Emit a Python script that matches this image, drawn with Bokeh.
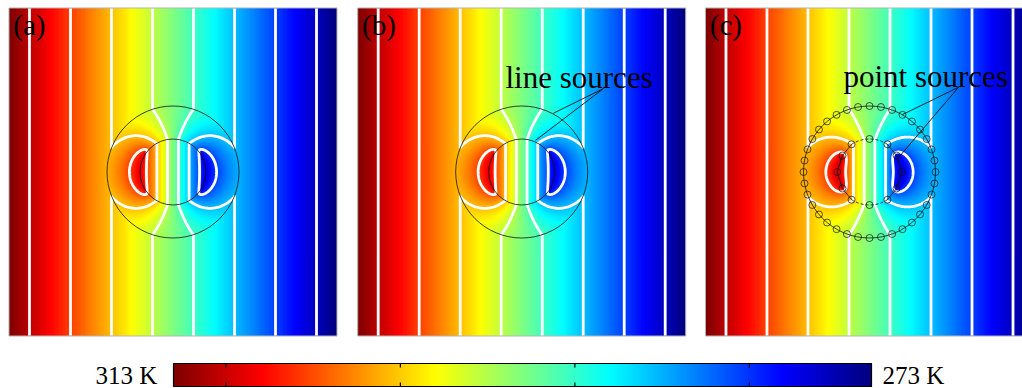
import numpy as np
from bokeh.plotting import figure
from bokeh.models import LinearColorMapper, Range1d
from bokeh.core.properties import value
from bokeh.embed import file_html
from bokeh.resources import INLINE

# ---------------- data ----------------
T_LEFT = 313.0          # K, hot end (left)
T_RIGHT = 273.0         # K, cold end (right)
T_MID = 293.0
levels = [275.5, 280.5, 285.5, 290.5, 295.5, 300.5, 305.5, 310.5]
cbar_ticks = [310, 300, 290, 280]
cbar_labels = ["313 K", "273 K"]
panel_labels = ["(a)", "(b)", "(c)"]
R_outer = 1.0
R_inner = 0.5
half_w = 2.485                       # half size of a panel (units of R_outer)
strip_half = [0.39, 0.27]            # half width of concentrating strip: (a,b), (c)
strip_grad = 30.8                    # K per unit inside the strip
source_T = [309.0, 310.0]            # source temperature: (a,b), (c)
src_poly_x = [-0.41, -0.49, -0.41]   # point-source curve in (c)
src_poly_y = [0.25, 0.0, -0.25]
link_x = [-0.27, -0.41]              # link from inner circle to source curve (c)
link_y = [0.42, 0.25]
outer_pts_deg = list(range(0, 360, 10))
inner_pts_deg = [57, 90, 123, 237, 270, 303]
annot_text = ["line sources", "point sources"]
annot_anchor = [(1.24, 1.265), (1.35, 1.285)]
annot_targets = [[(0.48, 0.89), (0.21, 0.48)], [(0.50, 0.87), (0.45, 0.23)]]

# ---------------- layout (px -> data, 66 px per unit) ----------------
S = 66.0
W, H = 1022, 388
X0, Y0 = 172.5, 171.5
cx = [0.0, (521.2 - X0) / S, (869.0 - X0) / S]
BASE_SHIFT = 0.3   # measured offset of the rendered baseline, in em


def dx(X):
    return (X - X0) / S


def dy(Y):
    return (Y0 - Y) / S


def base_y(Y, fs):
    return dy(Y - BASE_SHIFT * fs)


# ---------------- palette (jet) ----------------
t = np.linspace(0, 1, 256)
r = np.clip(1.5 - np.abs(4 * t - 3), 0, 1)
gg = np.clip(1.5 - np.abs(4 * t - 2), 0, 1)
b = np.clip(1.5 - np.abs(4 * t - 1), 0, 1)
jet = ["#%02x%02x%02x" % (int(255 * a), int(255 * c), int(255 * d)) for a, c, d in zip(r, gg, b)]
mapper = LinearColorMapper(palette=jet, low=T_RIGHT, high=T_LEFT)

# ---------------- temperature fields ----------------
h = 0.01
n = 497
g = (np.arange(n) - (n - 1) / 2) * h
grad_out = (T_LEFT - T_RIGHT) / (2 * half_w)


def seg_dist(X, Y, x0, y0, x1, y1):
    ddx, ddy = x1 - x0, y1 - y0
    tt = np.clip(((X - x0) * ddx + (Y - y0) * ddy) / (ddx * ddx + ddy * ddy), 0, 1)
    return np.hypot(X - (x0 + tt * ddx), Y - (y0 + tt * ddy))


def field(kind):
    X, Y = np.meshgrid(g, g)
    T = T_MID - grad_out * X
    idx = np.where(np.abs(g) <= 1.04)[0]
    i0, i1 = idx[0], idx[-1] + 1
    Xs, Ys = X[i0:i1, i0:i1], Y[i0:i1, i0:i1]
    Rs = np.hypot(Xs, Ys)
    c = strip_half[kind]
    Ts = source_T[kind]
    vals = T_MID - grad_out * Xs
    fixed = Rs >= R_outer
    strip = (Rs < R_inner) & (np.abs(Xs) <= c)
    vals[strip] = T_MID - strip_grad * Xs[strip]
    fixed |= strip
    if kind == 0:
        ring = np.abs(Rs - R_inner) < 0.9 * h
        hot = ring & (Xs < -c)
        cold = ring & (Xs > c)
    else:
        hot = np.zeros_like(fixed)
        cold = np.zeros_like(fixed)
        for k in range(len(src_poly_x) - 1):
            hot |= seg_dist(Xs, Ys, src_poly_x[k], src_poly_y[k], src_poly_x[k + 1], src_poly_y[k + 1]) < 0.9 * h
            cold |= seg_dist(Xs, Ys, -src_poly_x[k], src_poly_y[k], -src_poly_x[k + 1], src_poly_y[k + 1]) < 0.9 * h
    vals[hot] = Ts
    vals[cold] = 2 * T_MID - Ts
    fixed |= hot | cold
    Tsub = vals.copy()
    ii, jj = np.indices(Tsub.shape)
    free = ~fixed
    red = (free & ((ii + jj) % 2 == 0))[1:-1, 1:-1]
    blk = (free & ((ii + jj) % 2 == 1))[1:-1, 1:-1]
    inner = Tsub[1:-1, 1:-1]
    N = Tsub.shape[0]
    om = 2.0 / (1.0 + np.sin(np.pi / N))
    for _ in range(700):
        for m in (red, blk):
            avg = 0.25 * (Tsub[2:, 1:-1] + Tsub[:-2, 1:-1] + Tsub[1:-1, 2:] + Tsub[1:-1, :-2])
            inner[m] += om * (avg[m] - inner[m])
    T[i0:i1, i0:i1] = Tsub
    return T


T_ab = field(0)
T_c = field(1)
fields = [T_ab, T_ab, T_c]

# ---------------- figure ----------------
p = figure(width=W, height=H, output_backend="svg", toolbar_location=None,
           x_range=Range1d(dx(0), dx(W)), y_range=Range1d(dy(H), dy(0)),
           x_axis_type=None, y_axis_type=None, min_border=0)
p.grid.visible = False
p.outline_line_color = None
p.background_fill_color = "white"
p.border_fill_color = "white"

serif = value("Liberation Serif")

for k in range(3):
    x0 = cx[k]
    p.image(image=[fields[k]], x=x0 - half_w, y=-half_w, dw=2 * half_w, dh=2 * half_w,
            color_mapper=mapper)
    p.contour(x=g + x0, y=g, z=fields[k], levels=levels, line_color="white", line_width=2.8)
    p.rect(x=[x0], y=[0], width=2 * half_w, height=2 * half_w, fill_color=None,
           line_color="#b4b4b4", line_width=1)
    p.text(x=[x0 - half_w + 0.065], y=[base_y(33, 29)], text=[panel_labels[k]], text_font=serif,
           text_font_size="29px", text_baseline="alphabetic", text_color="black")

# geometry of (a) and (b)
for k in range(2):
    p.circle(x=[cx[k], cx[k]], y=[0, 0], radius=[R_outer, R_inner], fill_color=None,
             line_color="#111111", line_width=0.8)

# geometry of (c): point sources
x0 = cx[2]
p.circle(x=[x0], y=[0], radius=[R_outer], fill_color=None, line_color="#111111", line_width=0.8)
oa = np.deg2rad(outer_pts_deg)
p.scatter(x0 + R_outer * np.cos(oa), R_outer * np.sin(oa), marker="circle", size=7,
          fill_color=None, line_color="#111111", line_width=0.7)
p.arc(x=[x0, x0], y=[0, 0], radius=R_inner, start_angle=[np.deg2rad(57), np.deg2rad(237)],
      end_angle=[np.deg2rad(123), np.deg2rad(303)], line_color="#111111", line_width=0.8,
      line_dash="3 2")
ia = np.deg2rad(inner_pts_deg)
p.scatter(x0 + R_inner * np.cos(ia), R_inner * np.sin(ia), marker="circle", size=7,
          fill_color=None, line_color="#111111", line_width=0.7)
curves_x, curves_y = [], []
for sx in (1, -1):
    curves_x.append([x0 + sx * v for v in [link_x[0], link_x[1]] + src_poly_x[1:-1] + [link_x[1], link_x[0]]])
    curves_y.append([link_y[0], link_y[1]] + src_poly_y[1:-1] + [-link_y[1], -link_y[0]])
p.multi_line(curves_x, curves_y, line_color="#111111", line_width=0.8)
px_pts = [x0 + sx * v for sx in (1, -1) for v in src_poly_x]
py_pts = [v for sx in (1, -1) for v in src_poly_y]
p.scatter(px_pts, py_pts, marker="circle", size=7, fill_color=None, line_color="#111111",
          line_width=0.7)

# annotations
text_pos = [(dx(505), base_y(86.7, 31)), (dx(843), base_y(85.0, 31))]
for j, k in enumerate([1, 2]):
    ax, ay = annot_anchor[j]
    xs0, ys0, xs1, ys1 = [], [], [], []
    for tx_, ty_ in annot_targets[j]:
        xs0.append(cx[k] + ax); ys0.append(ay)
        xs1.append(cx[k] + tx_); ys1.append(ty_)
    p.segment(xs0, ys0, xs1, ys1, line_color="#111111", line_width=0.9)
    p.text(x=[text_pos[j][0]], y=[text_pos[j][1]], text=[annot_text[j]], text_font=serif,
           text_font_size="31px", text_baseline="alphabetic", text_color="black")

# colour bar
xl, xr = dx(173), dx(871)
yt, yb = dy(363), dy(386)
bar = np.linspace(T_LEFT, T_RIGHT, 512)[None, :]
p.image(image=[bar], x=xl, y=yb, dw=xr - xl, dh=yt - yb, color_mapper=mapper)
p.quad(left=[xl], right=[xr], top=[yt], bottom=[yb], fill_color=None, line_color="black",
       line_width=1.2)
tx = [xl + (T_LEFT - v) / (T_LEFT - T_RIGHT) * (xr - xl) for v in cbar_ticks]
tl = 4 / S
p.segment(tx + tx, [yt] * 4 + [yb] * 4, tx + tx, [yt - tl] * 4 + [yb + tl] * 4,
          line_color="black", line_width=1.2)
yl = base_y(382, 25)
p.text(x=[dx(156.7)], y=[yl], text=[cbar_labels[0]], text_align="right", text_font=serif,
       text_font_size="25px", text_baseline="alphabetic", text_color="black")
p.text(x=[dx(882)], y=[yl], text=[cbar_labels[1]], text_align="left", text_font=serif,
       text_font_size="25px", text_baseline="alphabetic", text_color="black")

open("out.html", "w").write(file_html(p, INLINE))
